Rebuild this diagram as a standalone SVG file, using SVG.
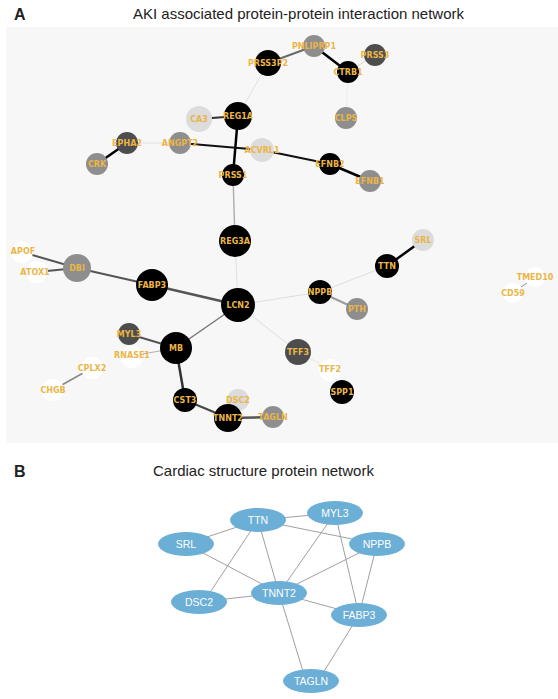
<svg xmlns="http://www.w3.org/2000/svg" width="558" height="699" viewBox="0 0 558 699">
<style>
.t{font-family:"Liberation Sans",Arial,sans-serif;fill:#222}
.ab{font-family:"Liberation Sans",Arial,sans-serif;font-weight:bold;fill:#222;font-size:16px}
.lb{font-family:"DejaVu Sans",sans-serif;font-weight:bold;font-size:8px;fill:#eab548;text-anchor:middle;dominant-baseline:central}
.k{fill:#000}.d{fill:#4d4d4d}.m{fill:#8e8e8e}.l{fill:#dcdcdc}.w{fill:#fff}
.be{fill:#6baed6}
.bl{font-family:"Liberation Sans",Arial,sans-serif;font-size:10.5px;fill:#fff;text-anchor:middle;dominant-baseline:central}
.eb line{stroke:#a0a0a0;stroke-width:1}
</style>
<rect x="0" y="0" width="558" height="699" fill="#fff"/>
<text class="ab" x="14" y="20">A</text>
<text class="t" x="133" y="19" font-size="15">AKI associated protein-protein interaction network</text>
<rect x="6" y="27" width="552" height="416" fill="#f7f7f7"/>
<g id="edgesA" fill="none" stroke-linecap="round">
<line x1="268" y1="63" x2="314" y2="46" stroke="#6a6a6a" stroke-width="2"/>
<line x1="314" y1="46" x2="348" y2="72" stroke="#000" stroke-width="2.5"/>
<line x1="348" y1="72" x2="375" y2="55" stroke="#d8d8d8" stroke-width="1"/>
<line x1="268" y1="63" x2="238" y2="116" stroke="#e0e0e0" stroke-width="1"/>
<line x1="348" y1="72" x2="346" y2="118" stroke="#ececec" stroke-width="1"/>
<line x1="199" y1="119" x2="238" y2="116" stroke="#333" stroke-width="2"/>
<line x1="238" y1="116" x2="233" y2="175" stroke="#000" stroke-width="2.5"/>
<line x1="180" y1="143" x2="262" y2="150" stroke="#111" stroke-width="2"/>
<line x1="262" y1="150" x2="330" y2="164" stroke="#111" stroke-width="2"/>
<line x1="330" y1="164" x2="370" y2="181" stroke="#000" stroke-width="2.5"/>
<line x1="127" y1="143" x2="180" y2="143" stroke="#e2e2e2" stroke-width="1"/>
<line x1="127" y1="143" x2="97" y2="164" stroke="#000" stroke-width="2.5"/>
<line x1="233" y1="175" x2="235" y2="241" stroke="#b0b0b0" stroke-width="1.5"/>
<line x1="235" y1="241" x2="238" y2="305" stroke="#e0e0e0" stroke-width="1"/>
<line x1="22" y1="252" x2="77" y2="268" stroke="#555" stroke-width="2"/>
<line x1="37" y1="272" x2="77" y2="268" stroke="#555" stroke-width="2"/>
<line x1="77" y1="268" x2="152" y2="285" stroke="#555" stroke-width="2"/>
<line x1="152" y1="285" x2="238" y2="305" stroke="#555" stroke-width="2.5"/>
<line x1="238" y1="305" x2="176" y2="348" stroke="#777" stroke-width="1.5"/>
<line x1="238" y1="305" x2="320" y2="292" stroke="#dedede" stroke-width="1"/>
<line x1="238" y1="305" x2="298" y2="352" stroke="#dedede" stroke-width="1"/>
<line x1="320" y1="292" x2="387" y2="266" stroke="#dedede" stroke-width="1"/>
<line x1="387" y1="266" x2="423" y2="240" stroke="#000" stroke-width="2.5"/>
<line x1="320" y1="292" x2="357" y2="309" stroke="#9a9a9a" stroke-width="2"/>
<line x1="298" y1="352" x2="330" y2="369" stroke="#e6e6e6" stroke-width="1"/>
<line x1="129" y1="334" x2="176" y2="348" stroke="#555" stroke-width="2"/>
<line x1="132" y1="356" x2="176" y2="348" stroke="#b0b0b0" stroke-width="1"/>
<line x1="176" y1="348" x2="185" y2="400" stroke="#333" stroke-width="2.5"/>
<line x1="185" y1="400" x2="228" y2="418" stroke="#444" stroke-width="2"/>
<line x1="228" y1="418" x2="273" y2="417" stroke="#555" stroke-width="2.5"/>
<line x1="92" y1="368" x2="53" y2="390" stroke="#888" stroke-width="1.5"/>
<line x1="521" y1="287" x2="527" y2="283" stroke="#999" stroke-width="1"/>
</g>
<g id="PNLIPRP1"><circle class="m" cx="314" cy="46" r="11"/><text class="lb" x="314" y="46">PNLIPRP1</text></g>
<g id="PRSS3P2"><circle class="k" cx="268" cy="63" r="13"/><text class="lb" x="268" y="63">PRSS3P2</text></g>
<g id="CTRB1"><circle class="k" cx="348" cy="72" r="11"/><text class="lb" x="348" y="72">CTRB1</text></g>
<g id="PRSS3"><circle class="d" cx="375" cy="55" r="11"/><text class="lb" x="375" y="55">PRSS3</text></g>
<g id="REG1A"><circle class="k" cx="238" cy="116" r="14"/><text class="lb" x="238" y="116">REG1A</text></g>
<g id="CA3"><circle class="l" cx="199" cy="119" r="13"/><text class="lb" x="199" y="119">CA3</text></g>
<g id="CLPS"><circle class="m" cx="346" cy="118" r="11"/><text class="lb" x="346" y="118">CLPS</text></g>
<g id="ACVRL1"><circle class="l" cx="262" cy="150" r="12"/><text class="lb" x="262" y="150">ACVRL1</text></g>
<g id="EPHA2"><circle class="d" cx="127" cy="143" r="11"/><text class="lb" x="127" y="143">EPHA2</text></g>
<g id="CRK"><circle class="m" cx="97" cy="164" r="11"/><text class="lb" x="97" y="164">CRK</text></g>
<g id="ANGPT2"><circle class="m" cx="180" cy="143" r="11"/><text class="lb" x="180" y="143">ANGPT2</text></g>
<g id="PRSS1"><circle class="k" cx="233" cy="175" r="11"/><text class="lb" x="233" y="175">PRSS1</text></g>
<g id="EFNB2"><circle class="k" cx="330" cy="164" r="11"/><text class="lb" x="330" y="164">EFNB2</text></g>
<g id="EFNB1"><circle class="m" cx="370" cy="181" r="11"/><text class="lb" x="370" y="181">EFNB1</text></g>
<g id="REG3A"><circle class="k" cx="235" cy="241" r="16"/><text class="lb" x="235" y="241">REG3A</text></g>
<g id="APOF"><circle class="w" cx="22" cy="252" r="11"/><text class="lb" x="23" y="251">APOF</text></g>
<g id="ATOX1"><circle class="w" cx="37" cy="272" r="11"/><text class="lb" x="35" y="272">ATOX1</text></g>
<g id="DBI"><circle class="m" cx="77" cy="268" r="14"/><text class="lb" x="77" y="268">DBI</text></g>
<g id="FABP3"><circle class="k" cx="152" cy="285" r="16"/><text class="lb" x="152" y="285">FABP3</text></g>
<g id="LCN2"><circle class="k" cx="238" cy="305" r="17"/><text class="lb" x="238" y="305">LCN2</text></g>
<g id="MYL3"><circle class="d" cx="129" cy="334" r="11"/><text class="lb" x="129" y="334">MYL3</text></g>
<g id="MB"><circle class="k" cx="176" cy="348" r="16"/><text class="lb" x="176" y="348">MB</text></g>
<g id="RNASE1"><circle class="w" cx="132" cy="357" r="11"/><text class="lb" x="132" y="355">RNASE1</text></g>
<g id="CPLX2"><circle class="w" cx="92" cy="368" r="11"/><text class="lb" x="92" y="368">CPLX2</text></g>
<g id="CHGB"><circle class="w" cx="53" cy="390" r="11"/><text class="lb" x="53" y="390">CHGB</text></g>
<g id="SRL"><circle class="l" cx="423" cy="240" r="11"/><text class="lb" x="423" y="240">SRL</text></g>
<g id="TTN"><circle class="k" cx="387" cy="266" r="12"/><text class="lb" x="387" y="266">TTN</text></g>
<g id="NPPB"><circle class="k" cx="320" cy="292" r="12"/><text class="lb" x="320" y="292">NPPB</text></g>
<g id="PTH"><circle class="m" cx="357" cy="309" r="11"/><text class="lb" x="357" y="309">PTH</text></g>
<g id="TFF3"><circle class="d" cx="298" cy="352" r="13"/><text class="lb" x="298" y="352">TFF3</text></g>
<g id="TFF2"><circle class="w" cx="330" cy="370" r="11"/><text class="lb" x="330" y="369">TFF2</text></g>
<g id="SPP1"><circle class="k" cx="342" cy="392" r="12"/><text class="lb" x="342" y="392">SPP1</text></g>
<g id="CST3"><circle class="k" cx="185" cy="400" r="12"/><text class="lb" x="185" y="400">CST3</text></g>
<g id="DSC2"><circle class="l" cx="238" cy="400" r="11"/><text class="lb" x="238" y="400">DSC2</text></g>
<g id="TNNT2"><circle class="k" cx="228" cy="418" r="14"/><text class="lb" x="228" y="418">TNNT2</text></g>
<g id="TAGLN"><circle class="m" cx="273" cy="417" r="11"/><text class="lb" x="273" y="417">TAGLN</text></g>
<g id="TMED10"><circle class="w" cx="535" cy="277" r="10"/><text class="lb" x="535" y="277">TMED10</text></g>
<g id="CD59"><circle class="w" cx="513" cy="293" r="10"/><text class="lb" x="513" y="293">CD59</text></g>

<text class="ab" x="14" y="477">B</text>
<text class="t" x="153" y="476" font-size="15">Cardiac structure protein network</text>
<g id="edgesB" class="eb">
<line x1="258" y1="520" x2="335" y2="513"/>
<line x1="258" y1="520" x2="186" y2="544"/>
<line x1="258" y1="520" x2="377" y2="544"/>
<line x1="258" y1="520" x2="279" y2="593"/>
<line x1="258" y1="520" x2="207" y2="597"/>
<line x1="335" y1="513" x2="279" y2="593"/>
<line x1="335" y1="513" x2="359" y2="615"/>
<line x1="377" y1="544" x2="279" y2="593"/>
<line x1="377" y1="544" x2="359" y2="615"/>
<line x1="186" y1="544" x2="279" y2="593"/>
<line x1="199" y1="602" x2="279" y2="593"/>
<line x1="279" y1="593" x2="359" y2="615"/>
<line x1="279" y1="593" x2="306" y2="681"/>
<line x1="359" y1="615" x2="318" y2="681"/>
</g>
<g id="B_TTN"><ellipse class="be" cx="258" cy="520" rx="28" ry="12"/><text class="bl" x="258" y="520">TTN</text></g>
<g id="B_MYL3"><ellipse class="be" cx="335" cy="513" rx="28" ry="12"/><text class="bl" x="335" y="513">MYL3</text></g>
<g id="B_SRL"><ellipse class="be" cx="186" cy="544" rx="28" ry="12"/><text class="bl" x="186" y="544">SRL</text></g>
<g id="B_NPPB"><ellipse class="be" cx="377" cy="544" rx="28" ry="12"/><text class="bl" x="377" y="544">NPPB</text></g>
<g id="B_TNNT2"><ellipse class="be" cx="279" cy="593" rx="28" ry="12"/><text class="bl" x="279" y="593">TNNT2</text></g>
<g id="B_DSC2"><ellipse class="be" cx="199" cy="602" rx="28" ry="12"/><text class="bl" x="199" y="602">DSC2</text></g>
<g id="B_FABP3"><ellipse class="be" cx="359" cy="615" rx="28" ry="12"/><text class="bl" x="359" y="615">FABP3</text></g>
<g id="B_TAGLN"><ellipse class="be" cx="311" cy="681" rx="28" ry="12"/><text class="bl" x="311" y="681">TAGLN</text></g>
</svg>
